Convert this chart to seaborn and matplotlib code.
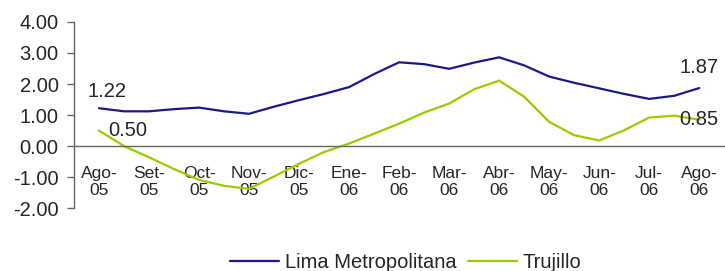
import numpy as np
import pandas as pd
import matplotlib
matplotlib.use("Agg")
import matplotlib.pyplot as plt
import seaborn as sns

meses = ["Ago-\n05", "Set-\n05", "Oct-\n05", "Nov-\n05", "Dic-\n05", "Ene-\n06",
         "Feb-\n06", "Mar-\n06", "Abr-\n06", "May-\n06", "Jun-\n06", "Jul-\n06", "Ago-\n06"]

# valores quincenales (dos por mes)
lima = [1.22, 1.12, 1.12, 1.19, 1.24, 1.12, 1.04, 1.27, 1.48, 1.68, 1.90, 2.32, 2.70,
        2.64, 2.49, 2.69, 2.86, 2.60, 2.24, 2.04, 1.86, 1.68, 1.52, 1.62, 1.87]
trujillo = [0.50, 0.00, -0.36, -0.74, -1.09, -1.28, -1.38, -0.98, -0.57, -0.19, 0.08, 0.40,
            0.72, 1.08, 1.37, 1.83, 2.11, 1.59, 0.78, 0.35, 0.18, 0.51, 0.92, 0.98, 0.85]

series = ["Lima Metropolitana", "Trujillo"]
colores = ["#1a1a8a", "#99cc00"]

pos = np.arange(len(lima)) / 2
df = pd.DataFrame({
    "pos": np.concatenate([pos, pos]),
    "valor": lima + trujillo,
    "serie": [series[0]] * len(lima) + [series[1]] * len(trujillo),
})

sns.set_style("white")
plt.rcParams["font.family"] = ["Liberation Sans", "DejaVu Sans"]

fig = plt.figure(figsize=(7.25, 2.71), dpi=100)
ax = fig.add_axes([0.102, 0.232, 0.897, 0.687])

sns.lineplot(data=df, x="pos", y="valor", hue="serie", palette=colores,
             linewidth=1.6, ax=ax, legend=False)

ax.set_xlim(-0.5, 12.5)
ax.set_ylim(-2, 4)
ax.set_yticks(range(-2, 5))
ax.set_yticklabels([f"{v:.2f}" for v in range(-2, 5)])
ax.set_xticks(np.arange(0.5, 13, 1), minor=True)
ax.set_xticks(range(len(meses)))
ax.set_xticklabels(meses, linespacing=1.6)
ax.tick_params(axis="x", which="major", length=0, pad=14, labelsize=12.5)
ax.tick_params(axis="x", which="minor", length=5, width=1, color="#666666", direction="out")
ax.tick_params(axis="y", length=5, width=1, color="#666666", direction="out", pad=6, left=True,
               labelsize=14.5)
ax.set_xlabel("")
ax.set_ylabel("")

for s in ["top", "right"]:
    ax.spines[s].set_visible(False)
ax.spines["bottom"].set_position(("data", 0))
for s in ["bottom", "left"]:
    ax.spines[s].set_color("#666666")
    ax.spines[s].set_linewidth(1)

# etiquetas de datos en el primer y último punto
ax.annotate(f"{lima[0]:.2f}", (pos[0], lima[0]), xytext=(6, 12), textcoords="offset points",
            ha="center", va="center", fontsize=14.5)
ax.annotate(f"{trujillo[0]:.2f}", (pos[0], trujillo[0]), xytext=(21, 0), textcoords="offset points",
            ha="center", va="center", fontsize=14.5)
ax.annotate(f"{lima[-1]:.2f}", (pos[-1], lima[-1]), xytext=(0, 15), textcoords="offset points",
            ha="center", va="center", fontsize=14.5)
ax.annotate(f"{trujillo[-1]:.2f}", (pos[-1], trujillo[-1]), xytext=(0, 0), textcoords="offset points",
            ha="center", va="center", fontsize=14.5)

handles = [plt.Line2D([], [], color=c, linewidth=1.6) for c in colores]
fig.legend(handles, series, loc="center", bbox_to_anchor=(406 / 725, 0.033), ncol=2,
           frameon=False, fontsize=14.5, handlelength=2.4, handletextpad=0.3,
           columnspacing=0.6)

fig.savefig("out.png", dpi=100)
